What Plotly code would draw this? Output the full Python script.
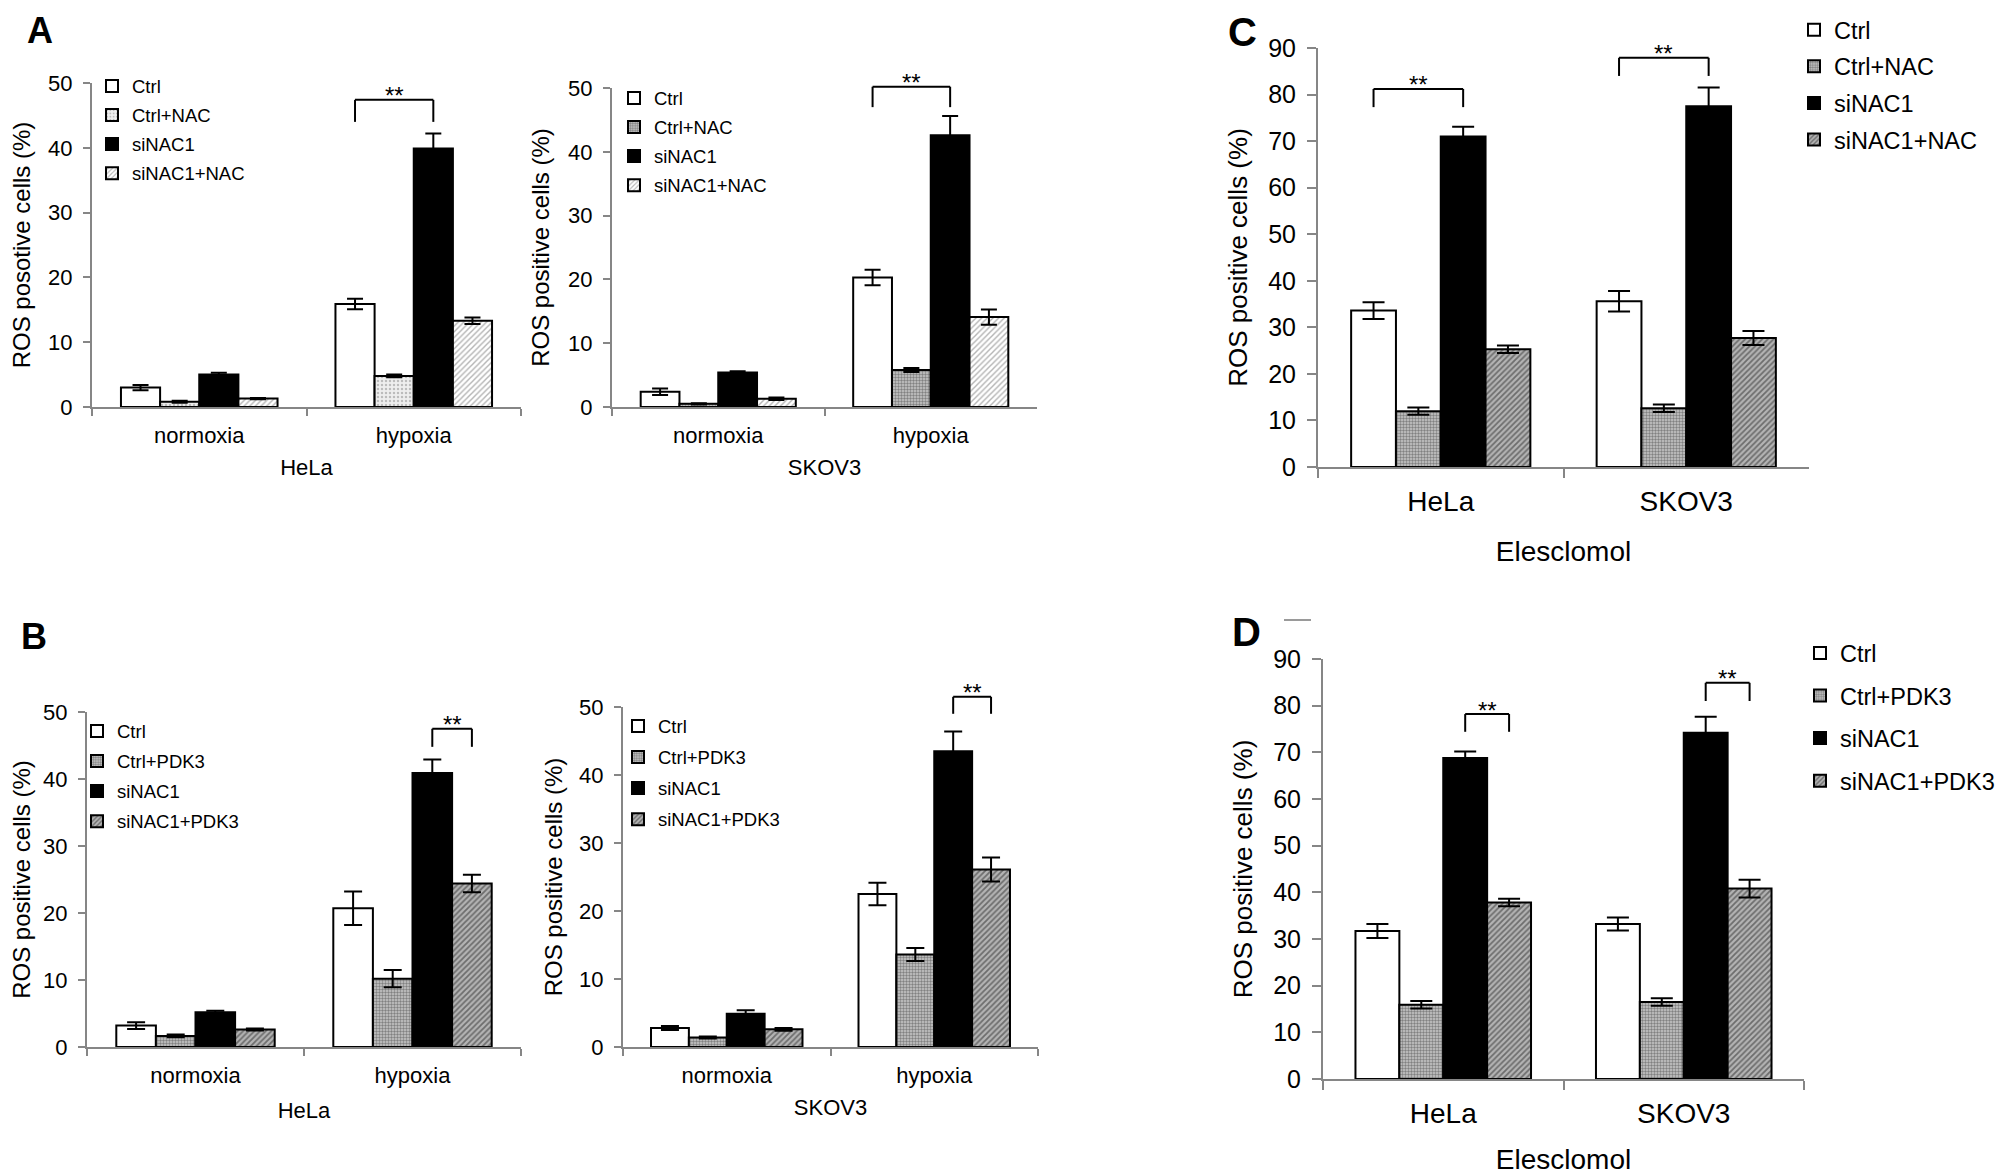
import plotly.graph_objects as go

# the page body adds an 8px offset, so the figure is drawn 8px smaller
# and every pixel position below is measured on the 2008x1175 window
W, H = 2008, 1175
OFF = 8
FIG_W, FIG_H = W - OFF, H - OFF
FONT = 'Liberation Sans, Arial, sans-serif'
AXIS_GREY = '#868686'

conditions = ['normoxia', 'hypoxia']
cell_lines = ['HeLa', 'SKOV3']
nac_names = ['Ctrl', 'Ctrl+NAC', 'siNAC1', 'siNAC1+NAC']
pdk_names = ['Ctrl', 'Ctrl+PDK3', 'siNAC1', 'siNAC1+PDK3']

# A - HeLa / SKOV3 under normoxia and hypoxia, +/- NAC
a_hela = [[3.0, 15.9], [0.8, 4.8], [5.0, 39.9], [1.3, 13.3]]
a_hela_err = [[0.4, 0.8], [0.15, 0.2], [0.3, 2.3], [0.1, 0.5]]
a_skov = [[2.4, 20.3], [0.5, 5.8], [5.4, 42.6], [1.3, 14.1]]
a_skov_err = [[0.5, 1.2], [0.1, 0.3], [0.2, 3.0], [0.2, 1.2]]

# B - same, +/- PDK3
b_hela = [[3.2, 20.7], [1.65, 10.2], [5.2, 40.9], [2.6, 24.4]]
b_hela_err = [[0.5, 2.5], [0.2, 1.3], [0.2, 2.0], [0.15, 1.3]]
b_skov = [[2.8, 22.5], [1.4, 13.6], [4.9, 43.5], [2.6, 26.1]]
b_skov_err = [[0.3, 1.65], [0.15, 0.95], [0.5, 2.9], [0.2, 1.75]]

# C / D - Elesclomol treated cells
c_vals = [[33.6, 35.6], [12.0, 12.6], [71.0, 77.5], [25.3, 27.7]]
c_err = [[1.8, 2.2], [0.8, 0.8], [2.1, 4.0], [0.8, 1.5]]
d_vals = [[31.7, 33.2], [15.9, 16.5], [68.8, 74.2], [37.8, 40.8]]
d_err = [[1.5, 1.4], [0.8, 0.8], [1.4, 3.4], [0.8, 1.9]]

# significance brackets: (category index, bar i, bar j, leg bottom, top)
a_hela_sig = [(1, 0, 2, 44.0, 47.4)]
a_skov_sig = [(1, 0, 2, 47.0, 50.2)]
b_hela_sig = [(1, 2, 3, 44.8, 47.5)]
b_skov_sig = [(1, 2, 3, 49.0, 51.5)]
c_sig = [(0, 0, 2, 77.3, 81.2), (1, 0, 2, 84.0, 87.9)]
d_sig = [(0, 2, 3, 74.4, 78.2), (1, 2, 3, 81.0, 84.9)]

BARGAP = 0.27

white = dict(color='white')
black = dict(color='black')
dots_light = dict(color='#eeeeee', pattern=dict(shape='.', fgcolor='#8a8a8a', bgcolor='#eeeeee', size=4, solidity=0.3))
dots_mid = dict(color='#c8c8c8', pattern=dict(shape='.', fgcolor='#3a3a3a', bgcolor='#c8c8c8', size=3, solidity=0.5))
hatch_light = dict(color='white', pattern=dict(shape='/', fgcolor='#6a6a6a', bgcolor='white', size=4, solidity=0.35))
hatch_dark = dict(color='#b4b4b4', pattern=dict(shape='/', fgcolor='#262626', bgcolor='#b4b4b4', size=4, solidity=0.45))


def px_x(v):
    return (v - OFF) / FIG_W


def px_y(v):
    return 1 - (v - OFF) / FIG_H


# fonts: tick, y title, category/x title, legend
small_fonts = (22, 24, 22, 18.5)
big_fonts = (25, 26, 28, 23.5)

panels = [
    dict(ax='', cats=conditions, names=nac_names, vals=a_hela, err=a_hela_err, sig=a_hela_sig,
         styles=[white, dots_light, black, hatch_light], xd=(92, 521), yd=(407, 83), ymax=50,
         ytitle='ROS posotive cells (%)', xtitle='HeLa', fonts=small_fonts, leg=(122, 81, 2),
         cap=8, xstand=12, ystand=12),
    dict(ax='2', cats=conditions, names=nac_names, vals=a_skov, err=a_skov_err, sig=a_skov_sig,
         styles=[white, dots_mid, black, hatch_light], xd=(612, 1037), yd=(407, 88), ymax=50,
         ytitle='ROS positive cells (%)', xtitle='SKOV3', fonts=small_fonts, leg=(644, 93, 2),
         cap=8, xstand=12, ystand=12),
    dict(ax='3', cats=conditions, names=pdk_names, vals=b_hela, err=b_hela_err, sig=b_hela_sig,
         styles=[white, dots_mid, black, hatch_dark], xd=(87, 521), yd=(1047, 712), ymax=50,
         ytitle='ROS positive cells (%)', xtitle='HeLa', fonts=small_fonts, leg=(107, 726, 3),
         cap=9, xstand=15, ystand=10),
    dict(ax='4', cats=conditions, names=pdk_names, vals=b_skov, err=b_skov_err, sig=b_skov_sig,
         styles=[white, dots_mid, black, hatch_dark], xd=(623, 1038), yd=(1047, 707), ymax=50,
         ytitle='ROS positive cells (%)', xtitle='SKOV3', fonts=small_fonts, leg=(648, 721, 4),
         cap=9, xstand=12, ystand=10),
    dict(ax='5', cats=cell_lines, names=nac_names, vals=c_vals, err=c_err, sig=c_sig,
         styles=[white, dots_mid, black, hatch_dark], xd=(1318, 1809), yd=(467, 48), ymax=90,
         ytitle='ROS positive cells (%)', xtitle='Elesclomol', fonts=big_fonts, leg=(1824, 16, 3),
         cap=11, xstand=26, ystand=13),
    dict(ax='6', cats=cell_lines, names=pdk_names, vals=d_vals, err=d_err, sig=d_sig,
         styles=[white, dots_mid, black, hatch_dark], xd=(1323, 1804), yd=(1079, 659), ymax=90,
         ytitle='ROS positive cells (%)', xtitle='Elesclomol', fonts=big_fonts, leg=(1830, 648, 9),
         cap=11, xstand=22, ystand=13),
]

fig = go.Figure()
layout = {}
shapes = []
annotations = []

for k, p in enumerate(panels):
    xa, ya = 'x' + p['ax'], 'y' + p['ax']
    legname = 'legend' + ('' if k == 0 else str(k + 1))
    tick_fs, title_fs, cat_fs, leg_fs = p['fonts']

    for i, name in enumerate(p['names']):
        st = p['styles'][i]
        marker = dict(color=st['color'], line=dict(color='black', width=2))
        if 'pattern' in st:
            marker['pattern'] = st['pattern']
        fig.add_trace(go.Bar(
            x=p['cats'], y=p['vals'][i], name=name,
            error_y=dict(type='data', array=p['err'][i], color='black', thickness=2, width=p['cap']),
            marker=marker, xaxis=xa, yaxis=ya, legend=legname,
            legendgroup='%s_%d' % (legname, i),
        ))

    axkey = 'xaxis' + p['ax']
    aykey = 'yaxis' + p['ax']
    ticklen = 7 if p['ymax'] == 50 else 9
    layout[axkey] = dict(
        domain=[px_x(p['xd'][0]), px_x(p['xd'][1])], anchor=ya, type='category',
        range=[-0.5, 1.5], showline=True, linecolor=AXIS_GREY, linewidth=2,
        ticks='outside', tickson='boundaries', ticklen=ticklen, tickwidth=2, tickcolor=AXIS_GREY,
        showgrid=False, tickfont=dict(family=FONT, size=cat_fs, color='black'),
        ticklabelstandoff=8,
        title=dict(text=p['xtitle'], font=dict(family=FONT, size=cat_fs, color='black'),
                   standoff=p['xstand']),
    )
    layout[aykey] = dict(
        domain=[px_y(p['yd'][0]), px_y(p['yd'][1])], anchor=xa, range=[0, p['ymax']],
        tickvals=list(range(0, p['ymax'] + 1, 10)), showline=True, linecolor=AXIS_GREY,
        linewidth=2, ticks='outside', ticklen=ticklen, tickwidth=2, tickcolor=AXIS_GREY,
        showgrid=False, zeroline=False, ticklabelstandoff=6,
        tickfont=dict(family=FONT, size=tick_fs, color='black'),
        title=dict(text=p['ytitle'], font=dict(family=FONT, size=title_fs, color='black'),
                   standoff=p['ystand']),
    )

    lx, ly, gap = p['leg']
    item_h = leg_fs * 1.3 + 3 + gap
    layout[legname] = dict(
        x=px_x(lx - 30), y=min(1, px_y(ly - item_h / 2 + gap / 2)), xanchor='left', yanchor='top',
        font=dict(family=FONT, size=leg_fs, color='black'), bgcolor='rgba(0,0,0,0)',
        traceorder='grouped', tracegroupgap=gap, itemwidth=30,
    )

    # significance brackets, positioned on the grouped bar centres
    bw = (1 - BARGAP) / 4
    for (ci, bi, bj, low, top) in p['sig']:
        x0 = ci - (1 - BARGAP) / 2 + (bi + 0.5) * bw
        x1 = ci - (1 - BARGAP) / 2 + (bj + 0.5) * bw
        yref = ya + ' domain'
        line = dict(color='black', width=2)
        shapes.append(dict(type='line', xref=xa, yref=yref, x0=x0, x1=x0, y0=low / p['ymax'], y1=top / p['ymax'], line=line))
        shapes.append(dict(type='line', xref=xa, yref=yref, x0=x1, x1=x1, y0=low / p['ymax'], y1=top / p['ymax'], line=line))
        shapes.append(dict(type='line', xref=xa, yref=yref, x0=x0, x1=x1, y0=top / p['ymax'], y1=top / p['ymax'], line=line))
        annotations.append(dict(text='**', xref=xa, yref=yref, x=(x0 + x1) / 2, y=top / p['ymax'],
                                yanchor='middle', yshift=4, showarrow=False,
                                font=dict(family=FONT, size=24, color='black')))

# panel letters (top-row letters pinned to the top edge of the figure)
for letter, x, y, size, anchor in [('A', 40, 8, 36, 'top'), ('B', 34, 636, 36, 'middle'),
                                    ('C', 1242, 8, 40, 'top'), ('D', 1246, 632, 40, 'middle')]:
    annotations.append(dict(text='<b>%s</b>' % letter, xref='paper', yref='paper', x=px_x(x), y=px_y(y),
                            xanchor='center', yanchor=anchor, showarrow=False,
                            font=dict(family=FONT, size=size, color='black')))

# stray dash next to D in the original figure
shapes.append(dict(type='line', xref='paper', yref='paper', x0=px_x(1284), x1=px_x(1311),
                   y0=px_y(620), y1=px_y(620), line=dict(color='#9a9a9a', width=2)))

fig.update_layout(
    width=FIG_W, height=FIG_H, margin=dict(l=0, r=0, t=0, b=0, autoexpand=False),
    barmode='group', bargap=BARGAP, bargroupgap=0,
    plot_bgcolor='white', paper_bgcolor='white',
    shapes=shapes, annotations=annotations, **layout
)

fig.write_html("out.html")
